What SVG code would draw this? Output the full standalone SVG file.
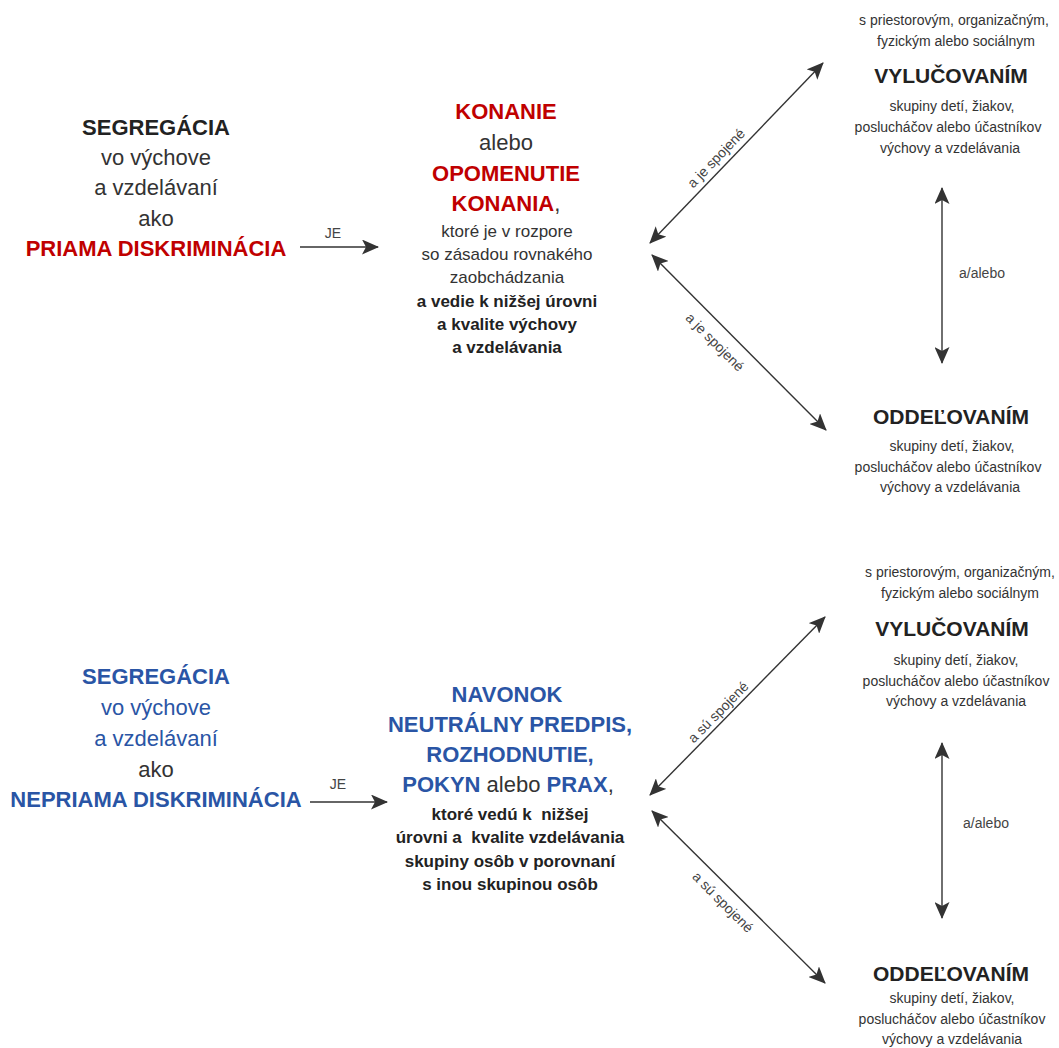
<svg xmlns="http://www.w3.org/2000/svg" width="1059" height="1048" viewBox="0 0 1059 1048">
<defs>
<marker id="ah" markerUnits="userSpaceOnUse" markerWidth="17" markerHeight="15" viewBox="0 0 17 15" refX="16" refY="7.5" orient="auto-start-reverse">
<path d="M0,0 L17,7.5 L0,15 L4,7.5 z" fill="#333"/>
</marker>
<style>
text{font-family:"Liberation Sans",Arial,Helvetica,sans-serif;fill:#333;}
.big{font-size:22px;text-anchor:middle;}
.mid{font-size:17px;text-anchor:middle;}
.sm{font-size:14px;text-anchor:middle;}
.b{font-weight:bold;fill:#222;}
.red{fill:#C00000;font-weight:bold;}
.blue{fill:#2A55A5;}
.bb{fill:#2A55A5;font-weight:bold;}
.hd{font-size:21px;font-weight:bold;text-anchor:middle;fill:#222;}
.lbl{font-size:14px;text-anchor:middle;fill:#444;}
.cn{stroke:#333;stroke-width:1.4;fill:none;marker-end:url(#ah);}
.cn2{stroke:#333;stroke-width:1.4;fill:none;marker-start:url(#ah);marker-end:url(#ah);}
</style>
</defs>

<g id="connectors">
<line class="cn" x1="300" y1="247" x2="378" y2="247"/>
<text class="lbl" x="333" y="238">JE</text>
<line class="cn2" x1="650" y1="243" x2="823" y2="63"/>
<text class="lbl" transform="translate(716,158) rotate(-46)" y="5">a je spojené</text>
<line class="cn2" x1="652" y1="255" x2="826" y2="430"/>
<text class="lbl" transform="translate(715,342) rotate(45)" y="5">a je spojené</text>
<line class="cn2" x1="942" y1="188" x2="942" y2="363"/>
<text class="lbl" x="982" y="278">a/alebo</text>

<line class="cn" x1="310" y1="802" x2="387" y2="802"/>
<text class="lbl" x="338" y="789">JE</text>
<line class="cn2" x1="650" y1="795" x2="825" y2="617"/>
<text class="lbl" transform="translate(718,712) rotate(-45.5)" y="5">a sú spojené</text>
<line class="cn2" x1="652" y1="811" x2="825" y2="983"/>
<text class="lbl" transform="translate(723,902) rotate(45)" y="5">a sú spojené</text>
<line class="cn2" x1="942" y1="743" x2="942" y2="918"/>
<text class="lbl" x="986" y="828">a/alebo</text>
</g>

<g id="node-segregacia-priama">
<text class="big b" x="156" y="135">SEGREGÁCIA</text>
<text class="big" x="156" y="165">vo výchove</text>
<text class="big" x="156" y="195">a vzdelávaní</text>
<text class="big" x="156" y="226">ako</text>
<text class="big red" x="156" y="256">PRIAMA DISKRIMINÁCIA</text>
</g>

<g id="node-konanie">
<text class="big red" x="506" y="119">KONANIE</text>
<text class="big" x="506" y="150">alebo</text>
<text class="big red" x="506" y="181">OPOMENUTIE</text>
<text class="big" x="506" y="211"><tspan class="red">KONANIA</tspan>,</text>
<text class="mid" x="507" y="237">ktoré je v rozpore</text>
<text class="mid" x="507" y="260">so zásadou rovnakého</text>
<text class="mid" x="507" y="283">zaobchádzania</text>
<text class="mid b" x="507" y="307">a vedie k nižšej úrovni</text>
<text class="mid b" x="507" y="330">a kvalite výchovy</text>
<text class="mid b" x="507" y="353">a vzdelávania</text>
</g>

<g id="node-vylucovanim-1">
<text class="sm" x="954" y="25">s priestorovým, organizačným,</text>
<text class="sm" x="956" y="46">fyzickým alebo sociálnym</text>
<text class="hd" x="951" y="83">VYLUČOVANÍM</text>
<text class="sm" x="952" y="111">skupiny detí, žiakov,</text>
<text class="sm" x="948" y="132">poslucháčov alebo účastníkov</text>
<text class="sm" x="950" y="153">výchovy a vzdelávania</text>
</g>

<g id="node-oddelovanim-1">
<text class="hd" x="951" y="424">ODDEĽOVANÍM</text>
<text class="sm" x="952" y="451">skupiny detí, žiakov,</text>
<text class="sm" x="948" y="472">poslucháčov alebo účastníkov</text>
<text class="sm" x="950" y="492">výchovy a vzdelávania</text>
</g>

<g id="node-segregacia-nepriama">
<text class="big bb" x="156" y="684">SEGREGÁCIA</text>
<text class="big blue" x="156" y="715">vo výchove</text>
<text class="big blue" x="156" y="746">a vzdelávaní</text>
<text class="big" x="156" y="777">ako</text>
<text class="big bb" x="156" y="807">NEPRIAMA DISKRIMINÁCIA</text>
</g>

<g id="node-navonok">
<text class="big bb" x="507" y="702">NAVONOK</text>
<text class="big bb" x="510" y="732">NEUTRÁLNY PREDPIS,</text>
<text class="big bb" x="510" y="762">ROZHODNUTIE,</text>
<text class="big" x="508" y="792"><tspan class="bb">POKYN</tspan> alebo <tspan class="bb">PRAX</tspan>,</text>
<text class="mid b" x="510" y="820" xml:space="preserve">ktoré vedú k  nižšej</text>
<text class="mid b" x="510" y="843" xml:space="preserve">úrovni a  kvalite vzdelávania</text>
<text class="mid b" x="510" y="867">skupiny osôb v porovnaní</text>
<text class="mid b" x="510" y="890">s inou skupinou osôb</text>
</g>

<g id="node-vylucovanim-2">
<text class="sm" x="960" y="577">s priestorovým, organizačným,</text>
<text class="sm" x="960" y="598">fyzickým alebo sociálnym</text>
<text class="hd" x="952" y="636">VYLUČOVANÍM</text>
<text class="sm" x="956" y="665">skupiny detí, žiakov,</text>
<text class="sm" x="956" y="686">poslucháčov alebo účastníkov</text>
<text class="sm" x="956" y="706">výchovy a vzdelávania</text>
</g>

<g id="node-oddelovanim-2">
<text class="hd" x="951" y="981">ODDEĽOVANÍM</text>
<text class="sm" x="952" y="1003">skupiny detí, žiakov,</text>
<text class="sm" x="952" y="1024">poslucháčov alebo účastníkov</text>
<text class="sm" x="952" y="1044">výchovy a vzdelávania</text>
</g>
</svg>
